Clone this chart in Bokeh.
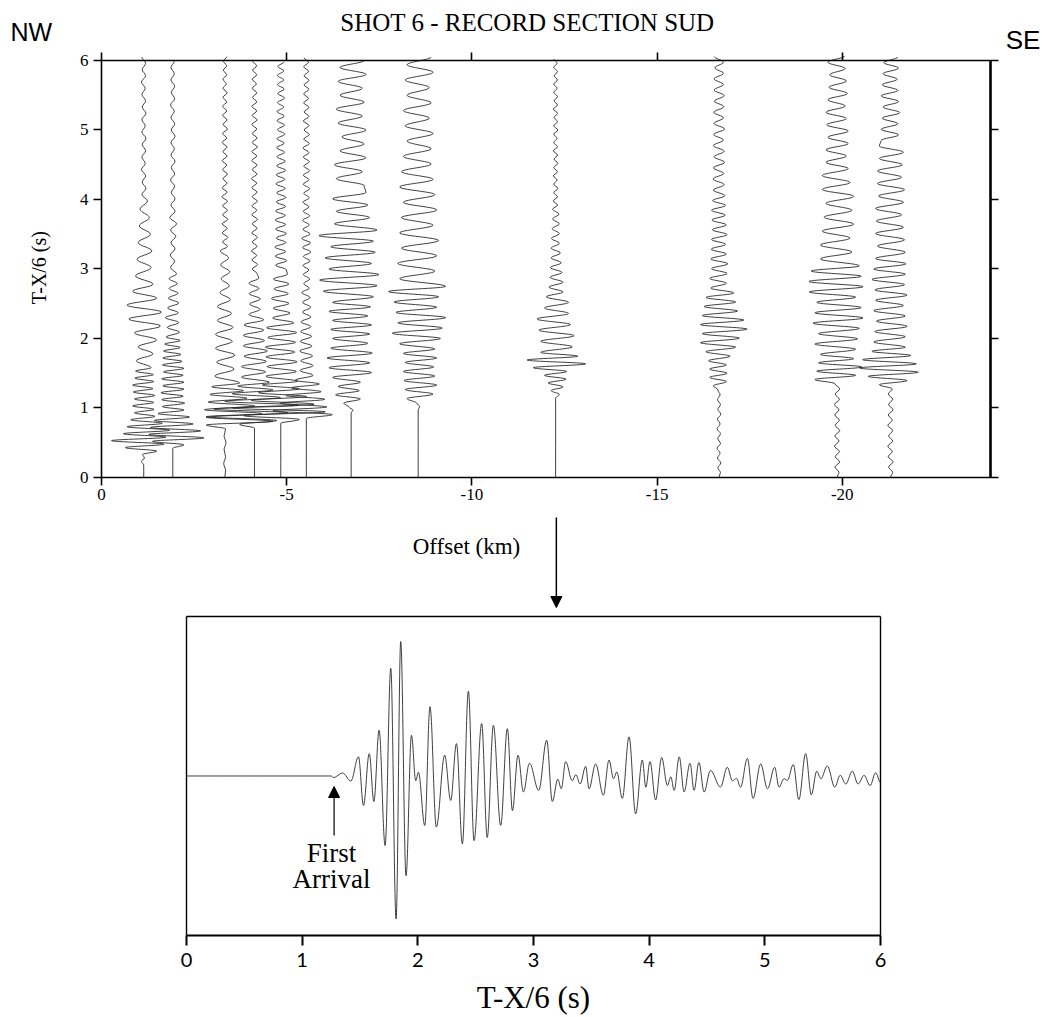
import math
from bokeh.plotting import figure
from bokeh.models import (Range1d, FixedTicker, LinearAxis, Label, Arrow,
                          NormalHead, ColumnDataSource)
from bokeh.embed import file_html
from bokeh.resources import INLINE

SERIF = "Liberation Serif"
SANS = "Liberation Sans"
INK = "#2a2a2a"

# ---------------- record section (top) ----------------
# offsets (km), onset (s) and extrema of each trace:
# segments = (half period in s, signed deflections in km, + = to the right)
trace_offsets = [-1.14, -1.925, -3.33, -4.13, -4.84, -5.53,
                 -6.74, -8.55, -12.26, -16.67, -19.86, -21.3]
trace_onsets = [0.18, 0.42, 0.0, 0.71, 0.78, 0.85,
                0.93, 0.97, 1.14, 0.0, 0.0, 0.0]

trace01 = [
    (0.05, [-0.06, 0.02, -0.03]),
    (0.05, [0.35, -0.5, 0.55, -0.87, 0.6, -0.55, 0.7, -0.45, 0.5, -0.35, 0.3]),
    (0.05, [-0.25, 0.28, -0.3, 0.27, -0.25, 0.3, -0.28, 0.25, -0.3, 0.27, -0.24, 0.26, -0.22, 0.2]),
    (0.1, [-0.2, 0.25, -0.15, 0.35, -0.25, 0.45, -0.4, 0.48, -0.45, 0.35, -0.3, 0.25]),
    (0.12, [-0.22, 0.2, -0.18, 0.22, -0.15, 0.18, -0.12, 0.15, -0.1, 0.1]),
    (0.09, [-0.05, 0.06, -0.04, 0.05, -0.06, 0.04, -0.05, 0.05, -0.04, 0.06, -0.05, 0.04,
            -0.05, 0.06, -0.04, 0.05, -0.05, 0.04, -0.06, 0.05, -0.04, 0.05, -0.05]),
]
trace02 = [
    (0.05, [0.3, -0.55, 0.84, -0.65, 0.75, -0.6, 0.55, -0.5, 0.45, -0.4]),
    (0.05, [0.3, -0.28, 0.32, -0.3, 0.28, -0.32, 0.3, -0.27, 0.3, -0.3, 0.28, -0.25,
            0.3, -0.28, 0.25, -0.27, 0.22, -0.25, 0.2, -0.22, 0.2, -0.18]),
    (0.07, [0.18, -0.15, 0.16, -0.2, 0.15, -0.14, 0.16, -0.12, 0.14, -0.1, 0.12, -0.1, 0.1]),
    (0.09, [-0.06, 0.05, -0.07, 0.06, -0.05, 0.08, -0.06, 0.1, -0.08, 0.06, -0.05, 0.06,
            -0.04, 0.05, -0.06, 0.05, -0.04, 0.06, -0.05, 0.04, -0.05, 0.06, -0.04, 0.05,
            -0.05, 0.04, -0.06, 0.05, -0.04, 0.05, -0.05, 0.04, -0.05, 0.04]),
]
trace03 = [
    (0.1, [0.02, -0.03, 0.02, -0.02, 0.03, -0.02, 0.02]),
    (0.055, [-0.5, 1.3, -0.5, 1.0, -0.55, 0.8, -0.45, 0.6, -0.4, 0.5, -0.35, 0.4]),
    (0.1, [-0.27, 0.25, -0.22, 0.27, -0.25, 0.2, -0.25, 0.22, -0.2, 0.18, -0.2, 0.15]),
    (0.1, [-0.13, 0.12, -0.1, 0.13, -0.11, 0.1, -0.12]),
    (0.065, [0.07, -0.06, 0.08, -0.07, 0.06, -0.07, 0.08, -0.06, 0.07, -0.06, 0.07, -0.08,
             0.06, -0.07, 0.06, -0.05, 0.07, -0.06, 0.05, -0.07, 0.06, -0.05, 0.06, -0.07,
             0.05, -0.06, 0.07, -0.05, 0.06, -0.06, 0.05, -0.06, 0.05, -0.05, 0.06, -0.05,
             0.04, -0.05, 0.05, -0.04, 0.05, -0.04, 0.05]),
]
trace04 = [
    (0.055, [-0.4, 0.6, -1.3, 0.9, -1.1, 1.2, -0.8, 0.7, -0.6, 0.5, -0.45, 0.4]),
    (0.075, [-0.35, 0.3, -0.35, 0.32, -0.28, 0.35, -0.3, 0.27, -0.3, 0.25, -0.28, 0.25]),
    (0.075, [-0.15, 0.15, -0.13, 0.16, -0.14, 0.12, -0.15, 0.12]),
    (0.065, [0.07, -0.06, 0.08, -0.07, 0.06, -0.08, 0.07, -0.06, 0.08, -0.07, 0.07, -0.06,
             0.08, -0.07, 0.06, -0.07, 0.08, -0.06, 0.07, -0.07, 0.06, -0.08, 0.07, -0.06,
             0.07, -0.07, 0.06, -0.07, 0.08, -0.06, 0.07, -0.06, 0.06, -0.07, 0.07, -0.06,
             0.06, -0.07, 0.06, -0.05, 0.06, -0.06, 0.05, -0.06, 0.06, -0.05, 0.06, -0.05]),
]
trace05 = [
    (0.055, [0.5, -1.0, 1.2, -1.3, 0.9, -0.8, 0.7, -0.6, 0.5, -0.5, 0.45]),
    (0.07, [-0.4, 0.42, -0.37, 0.44, -0.4, 0.38, -0.42, 0.4, -0.35, 0.43, -0.38, 0.35]),
    (0.07, [-0.22, 0.25, -0.2, 0.22, -0.25, 0.2, -0.18, 0.22, -0.2, 0.18]),
    (0.065, [0.15, -0.14, 0.16, -0.15, 0.13, -0.16, 0.14, -0.12, 0.15, -0.14, 0.13, -0.15,
             0.12, -0.14, 0.13, -0.12, 0.14, -0.11, 0.12, -0.13, 0.11, -0.12, 0.13, -0.11,
             0.12, -0.1]),
    (0.065, [0.1, -0.11, 0.09, -0.1, 0.11, -0.09, 0.1, -0.1, 0.09, -0.1, 0.08, -0.09,
             0.1, -0.08, 0.09, -0.09, 0.08, -0.09, 0.08, -0.08, 0.09]),
]
trace06 = [
    (0.055, [0.7, -0.9, 0.55, -0.7, 0.5, -0.55, 0.4, -0.4, 0.35, -0.3]),
    (0.07, [0.18, -0.17, 0.18, -0.15, 0.17, -0.18, 0.15, -0.16, 0.14, -0.15, 0.12, -0.14,
            0.12, -0.1, 0.12, -0.1, 0.1, -0.12]),
    (0.065, [0.08, -0.07, 0.09, -0.08, 0.07, -0.09, 0.1, -0.08, 0.12, -0.1,
             0.11, -0.12, 0.1, -0.09, 0.08, -0.1, 0.09, -0.08, 0.07, -0.09,
             0.08, -0.07, 0.09, -0.08, 0.07, -0.08, 0.09, -0.07, 0.08, -0.08,
             0.07, -0.09, 0.08, -0.07, 0.08, -0.06, 0.07, -0.08, 0.07, -0.06,
             0.07, -0.07, 0.06, -0.07, 0.07, -0.06, 0.07, -0.06, 0.06, -0.07,
             0.06, -0.06]),
]
trace07 = [
    (0.04, [0.05, -0.05]),
    (0.06, [-0.2, 0.25, -0.42, 0.22, -0.35, 0.25]),
    (0.07, [-0.5, 0.55, -0.6, 0.5, -0.65, 0.57, -0.55, 0.45, -0.5]),
    (0.065, [0.5, -0.55, 0.55, -0.5, 0.45, -0.6, 0.52, -0.5]),
    (0.08, [0.6, -0.75, 0.7, -0.85, 0.75, -0.6, 0.55, -0.7, 0.65, -0.55, 0.6, -0.87, 0.7]),
    (0.09, [-0.45, 0.5, -0.4, 0.45, -0.5, 0.4]),
    (0.1, [0.35, -0.4, 0.3, -0.45, 0.4, -0.3, 0.35, -0.25, 0.4, -0.35, 0.3, -0.4,
           0.35, -0.3, 0.3, -0.35, 0.4, -0.3, 0.35]),
]
trace08 = [
    (0.05, [0.04, -0.04]),
    (0.065, [-0.3, 0.4, -0.35, 0.5, -0.38, 0.45, -0.4, 0.42, -0.35, 0.5, -0.4, 0.45]),
    (0.075, [-0.5, 0.6, -0.7, 0.65, -0.55, 0.74, -0.6, 0.5, -0.65, 0.55, -0.8, 0.74]),
    (0.11, [-0.5, 0.45, -0.55, 0.5, -0.45, 0.55, -0.5, 0.4, -0.45, 0.5, -0.4, 0.45,
            -0.5, 0.4, -0.45, 0.35, -0.4]),
    (0.11, [0.35, -0.3, 0.4, -0.35, 0.3, -0.4, 0.35, -0.3, 0.3, -0.35, 0.4, -0.3, 0.35]),
]
trace09 = [
    (0.055, [0.1, -0.12, 0.2, -0.2, 0.28, -0.3, 0.3, -0.6, 0.81, -0.77, 0.6, -0.4]),
    (0.08, [0.45, -0.4, 0.5, -0.45, 0.4, -0.5, 0.35, -0.3, 0.35, -0.25]),
    (0.07, [0.2, -0.18, 0.2, -0.15, 0.17, -0.14, 0.15, -0.12, 0.13, -0.12, 0.1, -0.11,
            0.1, -0.09, 0.1, -0.08, 0.09, -0.08]),
    (0.06, [0.05, -0.06, 0.05, -0.05, 0.06, -0.05, 0.04, -0.06, 0.05, -0.05, 0.06, -0.04,
            0.05, -0.06, 0.05, -0.05, 0.04, -0.05, 0.06, -0.05, 0.05, -0.04, 0.05, -0.06,
            0.05, -0.04, 0.05, -0.05, 0.04, -0.05, 0.05, -0.04, 0.05, -0.05, 0.04, -0.05]),
]
trace10 = [
    (0.07, [0.04, -0.03, 0.05, -0.04, 0.03, -0.05, 0.04, -0.03, 0.04, -0.05, 0.03, -0.04,
            0.05, -0.03, 0.04, -0.04, 0.03, -0.03]),
    (0.06, [-0.15, 0.2, -0.25, 0.22, -0.25, 0.2, -0.28]),
    (0.065, [0.3, -0.35, 0.45, -0.5, 0.55, -0.45, 0.76, -0.5, 0.67, -0.45, 0.5, -0.4,
             0.45, -0.35, 0.4]),
    (0.07, [-0.22, 0.2, -0.25, 0.22, -0.2, 0.24, -0.22, 0.2, -0.21, 0.18, -0.2, 0.22,
            -0.18, 0.2, -0.19, 0.17, -0.2, 0.18, -0.17, 0.16]),
    (0.08, [-0.15, 0.14, -0.16, 0.13, -0.15, 0.15, -0.13, 0.14, -0.15, 0.12, -0.14, 0.15,
            -0.13, 0.12, -0.14, 0.13, -0.12, 0.14, -0.13, 0.12, -0.13, 0.12, -0.11, 0.12,
            -0.12]),
]
trace11 = [
    (0.075, [0.05, -0.06, 0.07, -0.05, 0.06, -0.07, 0.05, -0.06, 0.07, -0.05, 0.06, -0.06,
             0.05, -0.07, 0.06, -0.05, 0.07, -0.06]),
    (0.06, [-0.6, 0.5, -0.55, 0.67, -0.5, 0.45, -0.45]),
    (0.075, [0.5, -0.6, 0.55, -0.5, 0.6, -0.65, 0.7, -0.6, 0.65, -0.55, 0.5, -0.75,
             0.7, -0.76, 0.65, -0.7, 0.6]),
    (0.1, [-0.45, 0.4, -0.45, 0.35, -0.4, 0.45, -0.35, 0.4, -0.3, 0.45, -0.4, 0.35,
           -0.4, 0.3]),
    (0.09, [-0.3, 0.25, -0.3, 0.3, -0.25, 0.3, -0.28, 0.25, -0.3, 0.22, -0.25, 0.28,
            -0.22, 0.25, -0.2, 0.22, -0.25, 0.2]),
]
trace12 = [
    (0.075, [0.06, -0.05, 0.07, -0.06, 0.05, -0.07, 0.06, -0.05, 0.06, -0.07, 0.05, -0.06,
             0.07, -0.05, 0.06, -0.06, 0.05]),
    (0.06, [-0.3, 0.45, -0.6, 0.75, -0.83, 0.7, -0.75, 0.55, -0.5, 0.4]),
    (0.075, [-0.45, 0.4, -0.42, 0.45, -0.38, 0.4, -0.45, 0.35, -0.4, 0.45, -0.42, 0.38,
             -0.5, 0.4, -0.45, 0.42, -0.4]),
    (0.09, [0.4, -0.35, 0.38, -0.4, 0.35, -0.38, 0.3, -0.4, 0.35, -0.32, 0.38, -0.35,
            0.3, -0.35, 0.32, -0.3, 0.35, -0.3]),
    (0.08, [-0.25, 0.22, -0.25, 0.2, -0.22, 0.25, -0.2, 0.22, -0.25, 0.2, -0.22, 0.18,
            -0.2, 0.22, -0.18, 0.2]),
]
trace_segments = [trace01, trace02, trace03, trace04, trace05, trace06,
                  trace07, trace08, trace09, trace10, trace11, trace12]

x_ticks = [0, -5, -10, -15, -20]
x_tick_labels = ["0", "-5", "-10", "-15", "-20"]
t_ticks = [0, 1, 2, 3, 4, 5, 6]

# ---------------- single trace (bottom) ----------------
wave_t = [
    0.0, 1.25, 1.27, 1.349, 1.421, 1.487, 1.53, 1.58, 1.62, 1.665,
    1.717, 1.766, 1.812, 1.852, 1.898, 1.945, 1.982, 2.005, 2.06, 2.105,
    2.16, 2.232, 2.284, 2.334, 2.385, 2.437, 2.486, 2.552, 2.60, 2.653,
    2.716, 2.774, 2.818, 2.866, 2.913, 2.965, 3.045, 3.114, 3.163, 3.21,
    3.24, 3.278, 3.335, 3.366, 3.403, 3.451, 3.48, 3.537, 3.604, 3.653,
    3.692, 3.72, 3.768, 3.826, 3.883, 3.941, 3.971, 4.007, 4.056, 4.108,
    4.158, 4.187, 4.216, 4.26, 4.302, 4.353, 4.388, 4.43, 4.475, 4.53,
    4.617, 4.675, 4.72, 4.755, 4.79, 4.849, 4.898, 4.964, 5.023, 5.085,
    5.123, 5.166, 5.195, 5.246, 5.294, 5.353, 5.402, 5.449, 5.484, 5.54,
    5.605, 5.651, 5.70, 5.756, 5.806, 5.858, 5.91, 5.958, 6.0]
wave_a = [
    0.0, 0.0, -0.01, 0.019, -0.031, 0.12, -0.185, 0.14, -0.16, 0.287,
    -0.436, 0.675, -0.897, 0.843, -0.625, 0.255, -0.03, 0.024, -0.31, 0.434,
    -0.32, 0.13, -0.153, 0.203, -0.426, 0.532, -0.405, 0.329, -0.386, 0.318,
    -0.31, 0.297, -0.217, 0.13, -0.1, 0.08, -0.09, 0.224, -0.16, -0.02,
    -0.08, 0.09, -0.03, 0.008, -0.05, 0.06, -0.08, 0.075, -0.12, 0.1,
    -0.017, 0.025, -0.14, 0.245, -0.237, 0.1, -0.07, 0.09, -0.15, 0.115,
    -0.06, -0.005, -0.09, 0.12, -0.1, 0.08, -0.09, 0.085, -0.1, 0.035,
    -0.07, 0.055, -0.03, -0.015, -0.07, 0.11, -0.14, 0.075, -0.08, 0.055,
    -0.07, -0.017, -0.027, 0.072, -0.148, 0.14, -0.118, 0.03, -0.017, 0.063,
    -0.07, 0.004, -0.05, 0.03, -0.05, 0.004, -0.06, 0.02, -0.04]
first_arrival_t = 1.276
sec_ticks = [0, 1, 2, 3, 4, 5, 6]

assert len(wave_t) == len(wave_a)

K = 0.363  # bezier handle fraction giving a sine-like half cycle


def expand(onset, segments):
    ts, am = [0.0], [0.0]
    if onset > 0:
        ts.append(onset)
        am.append(0.0)
    t = onset
    for dt, vals in segments:
        for v in vals:
            t += dt
            ts.append(t)
            am.append(v)
    return ts, am


cols = {k: [] for k in ["x0", "y0", "x1", "y1", "cx0", "cy0", "cx1", "cy1"]}
for off, onset, segs in zip(trace_offsets, trace_onsets, trace_segments):
    ts, am = expand(onset, segs)
    xs = [off - a for a in am]
    for i in range(len(ts) - 1):
        h = ts[i + 1] - ts[i]
        cols["x0"].append(xs[i]); cols["y0"].append(ts[i])
        cols["x1"].append(xs[i + 1]); cols["y1"].append(ts[i + 1])
        cols["cx0"].append(xs[i]); cols["cy0"].append(ts[i] + K * h)
        cols["cx1"].append(xs[i + 1]); cols["cy1"].append(ts[i + 1] - K * h)
src_top = ColumnDataSource(cols)

bcols = {k: [] for k in ["x0", "y0", "x1", "y1", "cx0", "cy0", "cx1", "cy1"]}
for i in range(len(wave_t) - 1):
    h = wave_t[i + 1] - wave_t[i]
    bcols["x0"].append(wave_t[i]); bcols["y0"].append(wave_a[i])
    bcols["x1"].append(wave_t[i + 1]); bcols["y1"].append(wave_a[i + 1])
    bcols["cx0"].append(wave_t[i] + K * h); bcols["cy0"].append(wave_a[i])
    bcols["cx1"].append(wave_t[i + 1] - K * h); bcols["cy1"].append(wave_a[i + 1])
src_bot = ColumnDataSource(bcols)

# One canvas (the page has no margin); the frame fills it. The record section
# uses the default ranges (offset km / time s), the lower panel extra ranges.
W, H = 1050, 1015
p = figure(width=W, height=H,
           x_range=Range1d(2.7268, -25.621), y_range=Range1d(-7.741, 6.8633),
           extra_x_ranges={"sec": Range1d(-1.6081, 7.4697)},
           extra_y_ranges={"amp": Range1d(-1.5016, 4.8621)},
           x_axis_location=None, y_axis_location=None,
           output_backend="svg", toolbar_location=None,
           min_border=0, min_border_left=0, min_border_right=0,
           min_border_top=0, min_border_bottom=0)
p.outline_line_color = None
p.grid.visible = False

p.bezier(x0="x0", y0="y0", x1="x1", y1="y1", cx0="cx0", cy0="cy0",
         cx1="cx1", cy1="cy1", source=src_top, line_color=INK, line_width=0.9)
p.bezier(x0="x0", y0="y0", x1="x1", y1="y1", cx0="cx0", cy0="cy0",
         cx1="cx1", cy1="cy1", source=src_bot, line_color=INK, line_width=0.9,
         x_range_name="sec", y_range_name="amp")


def style(ax, tick_out=8, lw=1.6):
    ax.major_tick_out = tick_out
    ax.major_tick_in = 0
    ax.minor_tick_line_color = None
    ax.axis_line_width = lw
    ax.major_tick_line_width = lw
    ax.axis_line_color = "black"
    ax.major_tick_line_color = "black"
    ax.major_label_text_color = "black"


# --- top panel axes
xb = LinearAxis(fixed_location=0, bounds=(-24, 0), ticker=FixedTicker(ticks=x_ticks),
                major_label_overrides={t: s for t, s in zip(x_ticks, x_tick_labels)})
style(xb)
xb.major_label_text_font = SERIF
xb.major_label_text_font_size = "17px"
xb.major_label_standoff = 4
p.add_layout(xb, "below")

xa = LinearAxis(fixed_location=6, bounds=(-24, 0), ticker=FixedTicker(ticks=x_ticks),
                major_label_overrides={t: "" for t in x_ticks})
style(xa)
p.add_layout(xa, "above")

yl = LinearAxis(fixed_location=0, bounds=(0, 6), ticker=FixedTicker(ticks=t_ticks))
style(yl)
yl.major_label_text_font = SERIF
yl.major_label_text_font_size = "17px"
yl.major_label_standoff = 5
p.add_layout(yl, "left")

yr = LinearAxis(fixed_location=-24, bounds=(0, 6), ticker=FixedTicker(ticks=t_ticks),
                major_label_overrides={t: "" for t in t_ticks})
style(yr, lw=1.6)
yr.axis_line_width = 2.6
p.add_layout(yr, "right")

# --- lower panel axes
bx = LinearAxis(x_range_name="sec", y_range_name="amp", fixed_location=-1,
                bounds=(0, 6), ticker=FixedTicker(ticks=sec_ticks))
style(bx, tick_out=10, lw=2)
bx.major_label_text_font = "Lato"
bx.major_label_text_font_size = "20px"
bx.major_label_standoff = 8
p.add_layout(bx, "below")

for loc, side, bnds in [(1, "above", (0, 6))]:
    ax = LinearAxis(x_range_name="sec", y_range_name="amp", fixed_location=loc,
                    bounds=bnds, ticker=FixedTicker(ticks=[]))
    style(ax, lw=1.4)
    p.add_layout(ax, side)
for loc, side in [(0, "left"), (6, "right")]:
    ax = LinearAxis(x_range_name="sec", y_range_name="amp", fixed_location=loc,
                    bounds=(-1, 1), ticker=FixedTicker(ticks=[]))
    style(ax, lw=1.4)
    p.add_layout(ax, side)

# --- texts
p.add_layout(Label(x=-11.5, y=6.547, text="SHOT 6 - RECORD SECTION SUD",
                   text_font=SERIF, text_font_size="25px", text_align="center",
                   text_baseline="middle", text_color="black"))
p.add_layout(Label(x=2.457, y=6.417, text="NW", text_font=SANS, text_font_size="25px",
                   text_align="left", text_baseline="middle", text_color="black"))
p.add_layout(Label(x=-24.41, y=6.30, text="SE", text_font=SANS, text_font_size="26px",
                   text_align="left", text_baseline="middle", text_color="black"))
p.add_layout(Label(x=1.70, y=3.02, text="T-X/6 (s)", text_font=SERIF,
                   text_font_size="20px", text_align="center", text_baseline="middle",
                   angle=math.pi / 2, text_color="black"))
p.add_layout(Label(x=-9.854, y=-0.993, text="Offset (km)", text_font=SERIF,
                   text_font_size="23px", text_align="center", text_baseline="middle",
                   text_color="black"))
p.add_layout(Arrow(end=NormalHead(size=11, fill_color="black", line_color="black"),
                   x_start=-12.28, y_start=-0.576, x_end=-12.28, y_end=-1.871,
                   line_width=1.5, line_color="black"))

p.add_layout(Label(x=3.0, y=-1.39, x_range_name="sec", y_range_name="amp",
                   text="T-X/6 (s)", text_font=SERIF, text_font_size="31px",
                   text_align="center", text_baseline="middle", text_color="black"))
p.add_layout(Label(x=1.254, y=-0.48, x_range_name="sec", y_range_name="amp",
                   text="First", text_font=SERIF, text_font_size="27px",
                   text_align="center", text_baseline="middle", text_color="black"))
p.add_layout(Label(x=1.254, y=-0.643, x_range_name="sec", y_range_name="amp",
                   text="Arrival", text_font=SERIF, text_font_size="27px",
                   text_align="center", text_baseline="middle", text_color="black"))
p.add_layout(Arrow(end=NormalHead(size=11, fill_color="black", line_color="black"),
                   x_start=first_arrival_t, y_start=-0.373, x_end=first_arrival_t,
                   y_end=-0.066, x_range_name="sec", y_range_name="amp",
                   line_width=1.2, line_color="black"))

open("out.html", "w").write(file_html(p, INLINE))
